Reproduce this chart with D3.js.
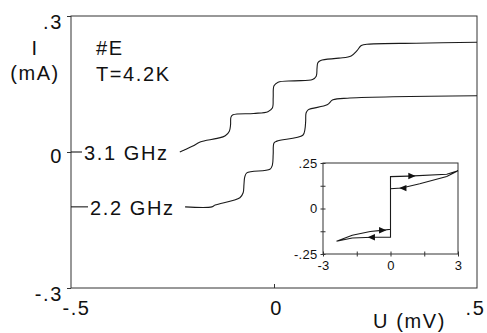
<!DOCTYPE html>
<html>
<head>
  <meta charset="utf-8">
  <script src="https://cdn.jsdelivr.net/npm/d3@7/dist/d3.min.js"></script>
  <style>
    body {margin:0; background:#fff;}
    text {font-family: "Liberation Sans", Arial, sans-serif; fill:#111;}
    .big {font-size:20px; letter-spacing:1.6px;}
    .small {font-size:13px; letter-spacing:0.3px;}
    .curve {fill:none; stroke:#1a1a1a; stroke-width:1.1;}
    .frame {fill:none; stroke:#333; stroke-width:1;}
  </style>
</head>
<body>
<script>
// main plot: I-U curves under microwave irradiation
const xTicks = [-0.5, 0, 0.5];
const xTickLabels = ["-.5", "0", ".5"];
const yTicks = [-0.3, 0, 0.3];
const yTickLabels = ["-.3", "0", ".3"];

const freqLabels = ["3.1 GHz", "2.2 GHz"];
const leadI = [0, -0.121];

const u31 = [-0.232, -0.222, -0.20, -0.182, -0.14, -0.12, -0.110, -0.107, -0.106, -0.101, -0.05, -0.015, -0.004, -0.002, 0.0, 0.010, 0.05, 0.095, 0.104, 0.106, 0.108, 0.115, 0.16, 0.19, 0.205, 0.215, 0.235, 0.35, 0.5];
const i31 = [0.0, 0.004, 0.013, 0.022, 0.030, 0.036, 0.046, 0.060, 0.077, 0.082, 0.085, 0.089, 0.097, 0.120, 0.146, 0.154, 0.157, 0.160, 0.167, 0.185, 0.197, 0.202, 0.207, 0.212, 0.224, 0.235, 0.238, 0.240, 0.242];

const u22 = [-0.219, -0.153, -0.145, -0.084, -0.076, -0.074, -0.072, -0.067, -0.010, -0.004, -0.002, 0.0, 0.007, 0.071, 0.076, 0.078, 0.079, 0.084, 0.131, 0.145, 0.187, 0.5];
const i22 = [-0.121, -0.121, -0.117, -0.101, -0.090, -0.072, -0.055, -0.046, -0.038, -0.029, -0.005, 0.020, 0.024, 0.037, 0.049, 0.068, 0.086, 0.093, 0.104, 0.115, 0.119, 0.124];

// inset: hysteresis loop
const insetXTicks = [-3, -1.5, 0, 1.5, 3];
const insetXLabels = {"-3": "-3", "0": "0", "3": "3"};
const insetYTicks = [-0.25, -0.125, 0, 0.125, 0.25];
const insetYLabels = {"-0.25": "-.25", "0": "0", "0.25": ".25"};

const loopU = [-2.4, -1.7, -0.9, -0.4, 0, 0, 0.8, 2.5, 3, 2.5, 1.3, 0.5, 0, 0, -0.8, -1.7, -2.4];
const loopI = [-0.18, -0.147, -0.126, -0.12, -0.114, 0.175, 0.178, 0.188, 0.207, 0.176, 0.136, 0.113, 0.109, -0.158, -0.158, -0.162, -0.18];

const arrowU = [-0.4, 0.9, 0.6, -0.8];
const arrowI = [-0.12, 0.1785, 0.112, -0.158];
const arrowDir = [1, 1, -1, -1];

const W = 487, H = 333;
const svg = d3.select("body").append("svg").attr("width", W).attr("height", H);

const x = d3.scaleLinear().domain([-0.5, 0.5]).range([71, 477]);
const y = d3.scaleLinear().domain([-0.3, 0.3]).range([288, 16]);

svg.append("rect").attr("class", "frame")
  .attr("x", x(-0.5)).attr("y", y(0.3))
  .attr("width", x(0.5) - x(-0.5)).attr("height", y(-0.3) - y(0.3));

// y axis
const yAxis = svg.append("g").attr("transform", `translate(${x(-0.5)},0)`)
  .call(d3.axisLeft(y).tickValues(yTicks)
    .tickFormat((d, i) => yTickLabels[i]).tickSizeInner(4).tickSizeOuter(0).tickPadding(4));
yAxis.select(".domain").remove();
yAxis.selectAll("line").attr("stroke", "#333");
yAxis.selectAll("text").attr("class", "big").attr("font-family", null).attr("font-size", null)
  .attr("dy", d => d === 0 ? "0.5em" : "0.62em").attr("fill", "#111");

// x axis
const xAxis = svg.append("g").attr("transform", `translate(0,${y(-0.3)})`)
  .call(d3.axisBottom(x).tickValues(xTicks)
    .tickFormat((d, i) => xTickLabels[i]).tickSizeInner(-4).tickSizeOuter(0).tickPadding(13));
xAxis.select(".domain").remove();
xAxis.selectAll("line").attr("stroke", "#333").attr("opacity", (d) => d === 0 ? 1 : 0);
xAxis.selectAll("text").attr("class", "big").attr("font-family", null).attr("font-size", null)
  .attr("fill", "#111")
  .attr("dx", d => d < 0 ? 5 : d > 0 ? -2 : 2);

// axis titles and annotations
svg.append("text").attr("class", "big").attr("x", 35).attr("y", 55).attr("text-anchor", "middle").text("I");
svg.append("text").attr("class", "big").attr("x", 35).attr("y", 80).attr("text-anchor", "middle").text("(mA)");
svg.append("text").attr("class", "big").attr("x", 96).attr("y", 55).text("#E");
svg.append("text").attr("class", "big").attr("x", 96).attr("y", 81).text("T=4.2K");
svg.append("text").attr("class", "big").attr("x", 373).attr("y", 328).text("U (mV)");

// curves
const line = d3.line().x(d => x(d[0])).y(d => y(d[1])).curve(d3.curveCatmullRom.alpha(0.5));
const curves = [d3.zip(u31, i31), d3.zip(u22, i22)];
svg.selectAll("path.main").data(curves).join("path")
  .attr("class", "curve main").attr("d", line);

// frequency labels with lead lines from the axis
const labelX = [84, 90];
freqLabels.forEach((t, k) => {
  svg.append("line").attr("class", "curve")
    .attr("x1", x(-0.5)).attr("x2", labelX[k] - 2)
    .attr("y1", y(leadI[k])).attr("y2", y(leadI[k]));
  svg.append("text").attr("class", "big").attr("x", labelX[k]).attr("y", y(leadI[k]) + 8).text(t);
});

// inset
const ix = d3.scaleLinear().domain([-3, 3]).range([323, 458]);
const iy = d3.scaleLinear().domain([-0.25, 0.25]).range([254, 163]);

svg.append("rect").attr("class", "frame")
  .attr("x", ix(-3)).attr("y", iy(0.25))
  .attr("width", ix(3) - ix(-3)).attr("height", iy(-0.25) - iy(0.25));

const iyAxis = svg.append("g").attr("transform", `translate(${ix(-3)},0)`)
  .call(d3.axisLeft(iy).tickValues(insetYTicks)
    .tickFormat(d => insetYLabels[String(d)] || "").tickSizeInner(2.5).tickSizeOuter(0).tickPadding(3));
iyAxis.select(".domain").remove();
iyAxis.selectAll("line").attr("x1", 2.5).attr("stroke", "#333");
iyAxis.selectAll("text").attr("class", "small").attr("font-family", null).attr("font-size", null).attr("fill", "#111");

const ixAxis = svg.append("g").attr("transform", `translate(0,${iy(-0.25)})`)
  .call(d3.axisBottom(ix).tickValues(insetXTicks)
    .tickFormat(d => insetXLabels[String(d)] || "").tickSizeInner(2.5).tickSizeOuter(0).tickPadding(4));
ixAxis.select(".domain").remove();
ixAxis.selectAll("line").attr("y1", -2.5).attr("stroke", "#333");
ixAxis.selectAll("text").attr("class", "small").attr("font-family", null).attr("font-size", null).attr("fill", "#111");

const iline = d3.line().x(d => ix(d[0])).y(d => iy(d[1]));
svg.append("path").attr("class", "curve").datum(d3.zip(loopU, loopI)).attr("d", iline);

const tri = d3.symbol().type(d3.symbolTriangle).size(18);
svg.selectAll("path.arrow").data(d3.zip(arrowU, arrowI, arrowDir)).join("path")
  .attr("class", "arrow").attr("fill", "#111")
  .attr("d", tri)
  .attr("transform", d => `translate(${ix(d[0])},${iy(d[1])}) rotate(${d[2] > 0 ? 90 : -90}) scale(1,1.3)`);
</script>
</body>
</html>
